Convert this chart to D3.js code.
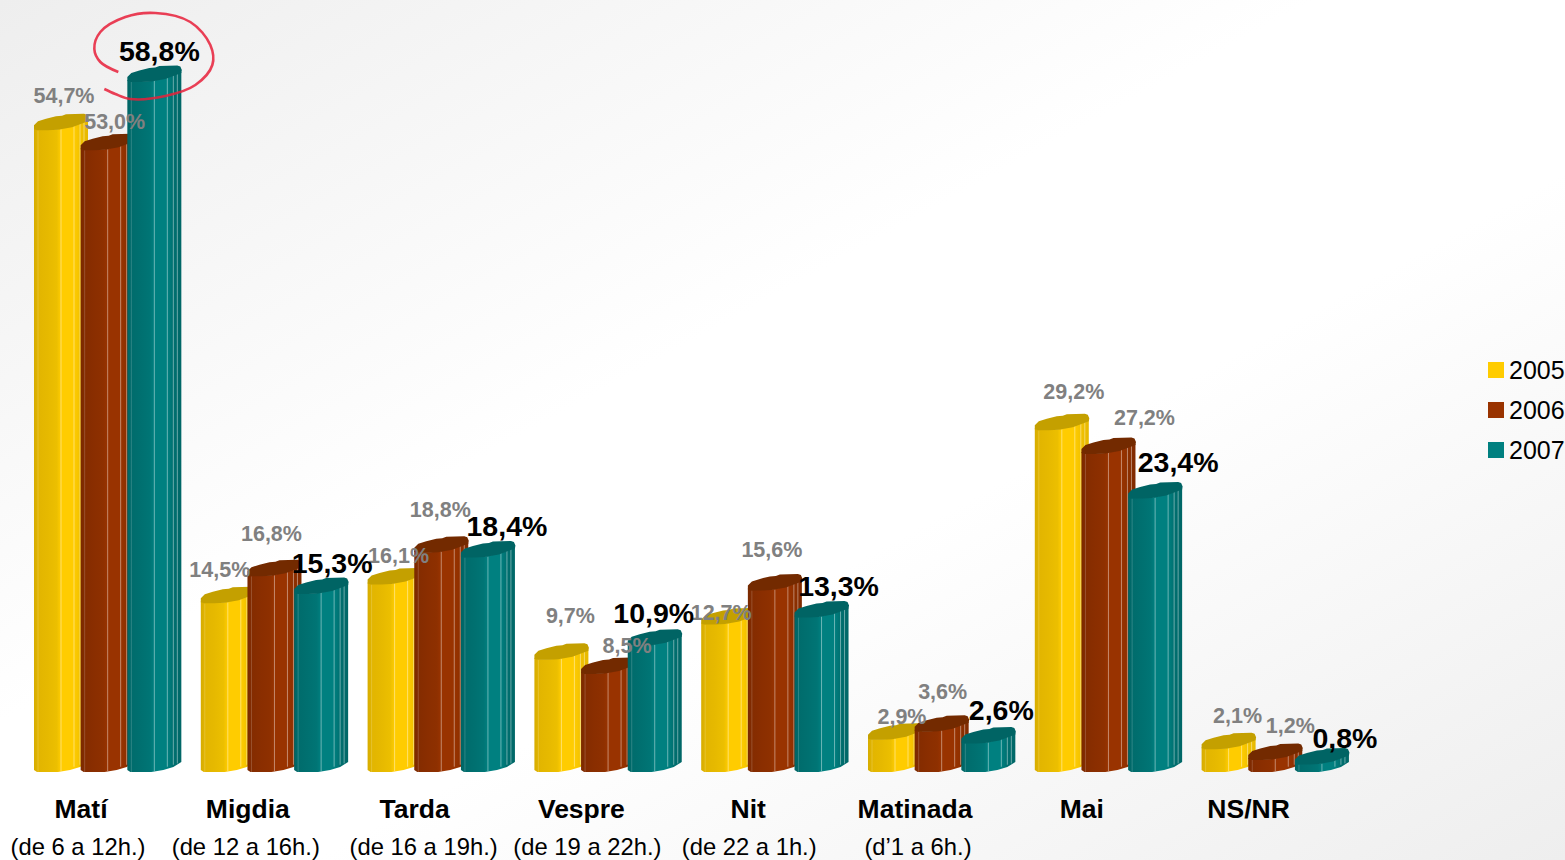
<!DOCTYPE html>
<html><head><meta charset="utf-8">
<script src="https://cdn.jsdelivr.net/npm/d3@7"></script>
<style>html,body{margin:0;padding:0;background:#fff;overflow:hidden}svg{display:block}text{font-family:"Liberation Sans",Arial,sans-serif}</style>
</head><body><svg id="c" width="1565" height="860"></svg>
<script>
const categories=["Matí","Migdia","Tarda","Vespre","Nit","Matinada","Mai","NS/NR"];
const subLabels=["(de 6 a 12h.)","(de 12 a 16h.)","(de 16 a 19h.)","(de 19 a 22h.)","(de 22 a 1h.)","(d’1 a 6h.)","",""];
const seriesNames=["2005","2006","2007"];
const values2005=[54.7,14.5,16.1,9.7,12.7,2.9,29.2,2.1];
const values2006=[53.0,16.8,18.8,8.5,15.6,3.6,27.2,1.2];
const values2007=[58.8,15.3,18.4,10.9,13.3,2.6,23.4,0.8];
const seriesValues=[values2005,values2006,values2007];

// layout only
const labelDx=[[30,19,31,36,20,34,39,36],[34,24,26,46,24,28,63,42],[32,38,46,26,44,40,50,50]];
const labelDy=[[-32,-31,-27,-42,-10,-21,-36,-31],[-26,-40,-41,-26,-38,-38,-34,-32],[-29,-29,-29,-31,-29,-31,-35,-25]];
const subDx=[-3,-2,9,6,1,3,0,0];
const colors=[
 {swatch:"#FFCC00",body:["#D6AC00","#E2B500","#E6B900","#ECBF00","#FFCC00","#FFCC00","#F2C200","#E6B800"],cap:"#C4A000"},
 {swatch:"#993300",body:["#7A2900","#842C00","#8A2E00","#8E3000","#993300","#993300","#8E3000","#7F2A00"],cap:"#732A00"},
 {swatch:"#008080",body:["#006464","#006C6C","#007070","#007575","#008080","#008080","#007070","#006666"],cap:"#006464"}];
const bandStops=[0,.08,.25,.42,.5,.74,.85,1];

const svg=d3.select("#c");
const defs=svg.append("defs");
const bg=defs.append("linearGradient").attr("id","bg").attr("x1","0").attr("y1","0").attr("x2","1").attr("y2","1");
[[0,"#eeeeee"],[0.42,"#ffffff"],[0.6,"#ffffff"],[1,"#eeeeee"]].forEach(s=>bg.append("stop").attr("offset",s[0]).attr("stop-color",s[1]));
colors.forEach((c,i)=>{
  const g=defs.append("linearGradient").attr("id","g"+i);
  bandStops.forEach((o,k)=>g.append("stop").attr("offset",o).attr("stop-color",c.body[k]));
});
defs.append("filter").attr("id","soft").append("feGaussianBlur").attr("stdDeviation",0.7);
svg.append("rect").attr("width",1565).attr("height",860).attr("fill","url(#bg)");

const x=d3.scaleBand().domain(categories).range([34,34+8*166.8]);
const inner=d3.scaleBand().domain(seriesNames).range([0,140]);
const y=d3.scaleLinear().domain([0,58.8]).range([772,80]);
const line=d3.line();

function frontPath(L,T,B){
  const top=[[0,0],[3,1.5],[14,1.5],[24,1],[38,-2],[54,-8]].map(p=>[L+p[0],T+p[1]]);
  const bot=[[54,-10],[46,-5],[36,-2],[24,0],[3,0],[0,-2]].map(p=>[L+p[0],B+p[1]]);
  return line(top.concat(bot))+"Z";
}
function capPath(L,T){
  const p=[[0,1],[0,-3],[4,-7],[12,-9.5],[22,-12],[28,-12.5],[32,-14],[50,-14.5],[53,-13.5],[54.5,-10],[54,-7],[38,-1],[24,1.5],[14,2],[3,2]];
  return line(p.map(q=>[L+q[0],T+q[1]]))+"Z";
}
const facetOffsets=[4,27,40,46,50];

categories.forEach((cat,ci)=>{
  seriesNames.forEach((s,si)=>{
    const L=x(cat)+inner(s), T=y(seriesValues[si][ci]), B=y(0);
    const g=svg.append("g");
    g.append("path").attr("d",frontPath(L,T,B)).attr("fill",`url(#g${si})`);
    facetOffsets.forEach(dx=>{
      const topAt=T+(dx<24?2:2-(dx-24)*.33);
      const botAt=B-(dx<24?0:(dx-24)*.33);
      if(botAt>topAt) g.append("line").attr("x1",L+dx).attr("x2",L+dx).attr("y1",topAt).attr("y2",botAt)
        .attr("stroke","#fff").attr("stroke-opacity",dx==4?.18:.42).attr("stroke-width",1);
    });
    g.append("path").attr("d",capPath(L,T)).attr("fill",colors[si].cap);
  });
});

// annotation ring anchored to the top bar
const ringX=x(categories[0])+inner("2007"), ringY=y(58.8);
const ring=[[-9,-8],[-27,-18],[-33,-31],[-27,-48],[-2,-63],[28,-67],[63,-58],[83,-35],[85,-15],[68,5],[38,16],[3,19],[-12,14],[-23,9]];
svg.append("path").attr("d",d3.line().curve(d3.curveCatmullRom.alpha(.5))(ring.map(p=>[ringX+p[0],ringY+p[1]])))
  .attr("fill","none").attr("stroke","#E8203A").attr("stroke-width",2.6).attr("stroke-opacity",.85).attr("filter","url(#soft)");

const fmt=v=>v.toFixed(1).replace(".",",")+"%";
seriesNames.forEach((s,si)=>{
  categories.forEach((cat,ci)=>{
    const v=seriesValues[si][ci];
    svg.append("text").attr("x",x(cat)+inner(s)+labelDx[si][ci]).attr("y",y(v)+labelDy[si][ci])
      .attr("text-anchor","middle").attr("dominant-baseline","central")
      .attr("font-weight","bold").attr("font-size",si==2?28.5:21.5).attr("fill",si==2?"#000":"#808080").text(fmt(v));
  });
});

categories.forEach((cat,ci)=>{
  const cx=x(cat)+47;
  svg.append("text").attr("x",cx).attr("y",818).attr("text-anchor","middle").attr("font-weight","bold").attr("font-size",26.5).attr("fill","#000").text(cat);
  if(subLabels[ci]) svg.append("text").attr("x",cx+subDx[ci]).attr("y",854.8).attr("text-anchor","middle").attr("font-size",23.8).attr("fill","#000").text(subLabels[ci]);
});

seriesNames.forEach((s,i)=>{
  const cy=370+i*40;
  svg.append("rect").attr("x",1488).attr("y",cy-8).attr("width",16).attr("height",16).attr("fill",colors[i].swatch);
  svg.append("text").attr("x",1509).attr("y",cy+9).attr("font-size",25).attr("fill","#000").text(s);
});
</script></body></html>
